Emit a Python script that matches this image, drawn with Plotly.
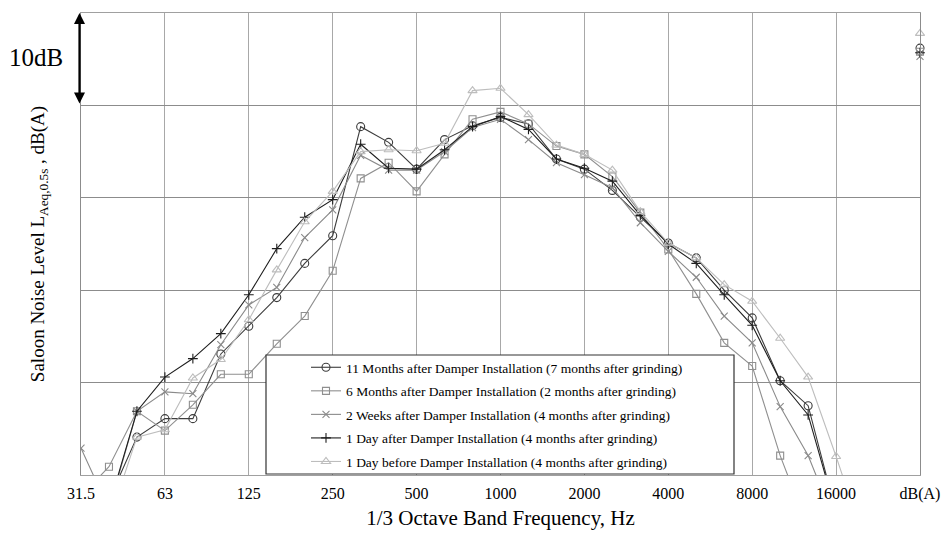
import plotly.graph_objects as go

# 1/3 octave band centre frequencies (index positions on the x axis)
BANDS = ["31.5", "40", "50", "63", "80", "100", "125", "160", "200", "250",
         "315", "400", "500", "630", "800", "1000", "1250", "1600", "2000",
         "2500", "3150", "4000", "5000", "6300", "8000", "10000", "12500",
         "16000", "20000"]
TICK_LABELS = ["31.5", "63", "125", "250", "500", "1000", "2000", "4000",
               "8000", "16000", "dB(A)"]
DBA_POS = 30  # position of overall dB(A) column

SERIES_NAMES = [
    "11 Months after Damper Installation (7 months after grinding)",
    "6 Months after Damper Installation (2 months after grinding)",
    "2 Weeks after Damper Installation (4 months after grinding)",
    "1 Day after Damper Installation (4 months after grinding)",
    "1 Day before Damper Installation (4 months after grinding)",
]

months11 = [None, 27.3, 34.1, 36.1, 36.1, 43.1, 46.1, 49.2, 52.9, 55.9,
            67.7, 66.0, 63.1, 66.3, 67.8, 68.7, 68.0, 64.2, 63.1,
            60.8, 57.9, 55.1, 53.5, 50.0, 47.0, 40.2, 37.5, 25.9, None]
months6 = [27.7, 30.9, 36.9, 34.8, 37.6, 40.9, 40.9, 44.2, 47.2, 52.1,
           62.1, 63.8, 60.7, 64.7, 68.5, 69.3, 68.0, 65.6, 64.7,
           62.3, 58.4, 54.4, 49.6, 44.3, 41.8, 32.1, 24.2, None, None]
weeks2 = [32.9, 26.3, 36.9, 39.0, 38.8, 44.1, 48.4, 50.3, 55.7, 58.7,
          64.6, 63.0, 63.0, 65.0, 67.6, 68.5, 66.3, 63.8, 62.5,
          61.1, 57.3, 54.2, 51.4, 47.2, 44.3, 37.4, 32.1, 24.6, None]
day1_after = [None, 26.6, 36.9, 40.6, 42.6, 45.3, 49.5, 54.5, 57.9, 59.8,
              65.8, 63.2, 63.1, 65.2, 67.7, 68.8, 67.4, 64.2, 63.2,
              61.8, 58.1, 55.0, 52.9, 49.5, 46.2, 40.2, 36.5, 25.9, None]
day1_before = [None, 25.0, 34.1, 34.9, 40.5, 42.5, 46.8, 52.2, 57.4, 60.7,
               65.0, 65.2, 65.1, 65.9, 71.6, 71.85, 69.0, 65.7, 64.7,
               63.0, 58.5, 55.1, 53.5, 50.6, 48.8, 44.8, 40.6, 32.0, 23.0]

overall_dba = [76.2, 75.8, 75.3, 75.7, 77.8]

SPECTRA = [months11, months6, weeks2, day1_after, day1_before]
COLORS = ["#3c3c3c", "#8f8f8f", "#8a8a8a", "#1e1e1e", "#bdbdbd"]
SYMBOLS = ["circle-open", "square-open", "x-thin-open", "cross-thin-open",
           "triangle-up-open"]
SIZES = [8, 7, 7, 7, 8]

FONT = "Liberation Serif"
x_idx = list(range(len(BANDS)))

fig = go.Figure()
for name, vals, col, sym, sz, dba in zip(SERIES_NAMES, SPECTRA, COLORS,
                                         SYMBOLS, SIZES, overall_dba):
    fig.add_trace(go.Scatter(
        x=x_idx, y=vals, name=name, mode="lines+markers",
        legendgroup=name, connectgaps=False,
        line=dict(color=col, width=1.1),
        marker=dict(symbol=sym, size=sz, color=col,
                    line=dict(color=col, width=1.1)),
    ))
    fig.add_trace(go.Scatter(
        x=[DBA_POS], y=[dba], mode="markers", showlegend=False,
        legendgroup=name, cliponaxis=False,
        marker=dict(symbol=sym, size=sz, color=col,
                    line=dict(color=col, width=1.1)),
    ))

L, R, T, B = 81, 24, 13, 59
W, H = 944, 534
pw, ph = W - L - R, H - T - B

def px(x):
    return (x - L) / pw

def py(y):
    return (H - B - y) / ph

fig.add_shape(type="rect", xref="paper", yref="paper",
              x0=px(266), x1=px(734), y0=py(474), y1=py(355),
              line=dict(color="#333333", width=1.2), fillcolor="white",
              layer="above")

# 10 dB scale arrow (double headed), one grid interval tall
fig.add_annotation(x=px(79.5), y=py(13), xref="paper", yref="paper",
                   axref="pixel", ayref="pixel", ax=0, ay=ph / 5,
                   text=" ", showarrow=True,
                   arrowhead=2, startarrowhead=2, arrowside="end+start",
                   arrowsize=1.0, arrowwidth=2.2, arrowcolor="black",
                   standoff=0, startstandoff=0,
                   font=dict(size=1, color="rgba(0,0,0,0)"))
fig.add_annotation(x=px(36), y=py(58), xref="paper", yref="paper",
                   xanchor="center", yanchor="middle",
                   text="10dB", showarrow=False,
                   font=dict(family=FONT, size=25, color="black"))

fig.update_layout(
    width=W, height=H,
    margin=dict(l=L, r=R, t=T, b=B, autoexpand=False),
    paper_bgcolor="white", plot_bgcolor="white",
    font=dict(family=FONT, color="black"),
    showlegend=True,
    legend=dict(x=px(306), y=py(352), xanchor="left", yanchor="top",
                bgcolor="rgba(0,0,0,0)", borderwidth=0,
                font=dict(family=FONT, size=13.5, color="black"),
                tracegroupgap=3, traceorder="grouped"),
)
fig.update_xaxes(
    range=[0, DBA_POS], tickmode="array",
    tickvals=[0, 3, 6, 9, 12, 15, 18, 21, 24, 27, 30],
    ticktext=TICK_LABELS, showgrid=True, gridcolor="#a8a8a8", gridwidth=1,
    zeroline=False, showline=True, linecolor="#a0a0a0", mirror=True,
    ticks="outside", ticklen=4, tickcolor="rgba(0,0,0,0)",
    tickfont=dict(family=FONT, size=16, color="black"),
    title=dict(text="1/3 Octave Band Frequency, Hz",
               font=dict(family=FONT, size=21, color="black"), standoff=8),
)
fig.update_yaxes(
    range=[30, 80], dtick=10, tick0=30, showticklabels=False,
    showgrid=True, gridcolor="#8c8c8c", gridwidth=1, zeroline=False,
    showline=True, linecolor="#8c8c8c", mirror=True, ticks="",
    title=dict(text="Saloon Noise Level L<sub>Aeq,0.5s</sub> , dB(A)",
               font=dict(family=FONT, size=19, color="black"), standoff=30),
)

fig.write_html("out.html")
